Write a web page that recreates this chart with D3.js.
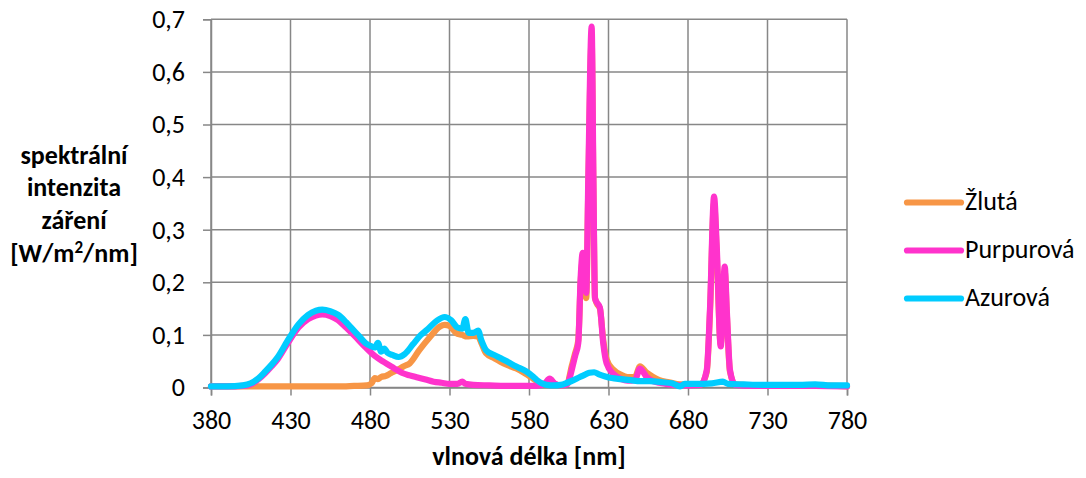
<!DOCTYPE html>
<html>
<head>
<meta charset="utf-8">
<script src="https://cdn.jsdelivr.net/npm/d3@7"></script>
<style>
  body { margin: 0; background: #fff; }
  svg text { font-family: Carlito, Lato, sans-serif; fill: #000; }
</style>
</head>
<body>
<div id="chart"></div>
<script>
// data
var seriesNames = ["Žlutá", "Purpurová", "Azurová"];
var seriesColors = ["#f79646", "#ff33cc", "#00ccff"];

var zlutaNm  = [380,400,420,440,460,470,478,481,483,485,487,490,493,497,501,505,511,518,524,527,530,534,538,541,545,548,550,553,558,562,567,572,578,582,585,590,593,596,600,604,607,609,611,612.5,613.8,616,617.3,619.4,620.5,621.5,622.6,624.6,626.7,628.8,633,638,642,646.6,649.8,654,658,662,668,675,688,691.8,693.8,696.4,698,700.6,703.1,704.4,706.4,709.6,720,740,760,780];
var zlutaVal = [0.002,0.002,0.002,0.002,0.002,0.003,0.004,0.008,0.018,0.016,0.02,0.022,0.027,0.033,0.04,0.046,0.071,0.097,0.116,0.119,0.117,0.104,0.1,0.097,0.098,0.097,0.085,0.065,0.056,0.049,0.042,0.036,0.026,0.018,0.012,0.006,0.016,0.007,0.004,0.008,0.042,0.065,0.09,0.2,0.24,0.17,0.38,0.66,0.38,0.17,0.16,0.15,0.09,0.054,0.034,0.024,0.02,0.02,0.04,0.028,0.02,0.014,0.01,0.006,0.006,0.03,0.14,0.35,0.26,0.082,0.22,0.14,0.03,0.006,0.004,0.003,0.004,0.002];

var purpurNm  = [380,390,400,405,410,414,418,422,428,435,441,446,450,455,460,465,470,477,483,489,495,500,505,510,515,520,525,530,535,538,540,545,555,565,575,585,590,593,596,600,604,607,609,611,612.5,613.8,615,616,617.3,619.4,620.5,621.5,622.6,624.6,626.7,628.8,633,638,642,646.6,649.8,654,658,662,668,675,688,691.8,693.8,696.4,698,700.6,703.1,704.4,706.4,709.6,720,740,760,780];
var purpurVal = [0.002,0.002,0.003,0.006,0.016,0.027,0.04,0.054,0.083,0.114,0.13,0.137,0.139,0.136,0.128,0.114,0.099,0.077,0.06,0.048,0.037,0.028,0.023,0.019,0.015,0.011,0.009,0.007,0.007,0.011,0.007,0.005,0.004,0.003,0.003,0.003,0.008,0.017,0.008,0.004,0.006,0.035,0.06,0.085,0.21,0.256,0.21,0.18,0.40,0.686,0.40,0.17,0.162,0.152,0.084,0.046,0.026,0.016,0.013,0.014,0.036,0.02,0.012,0.009,0.006,0.004,0.005,0.033,0.147,0.363,0.274,0.078,0.23,0.147,0.033,0.005,0.003,0.003,0.003,0.002];

var azurNm  = [380,390,400,405,410,414,418,422,428,435,441,446,450,455,460,465,469,473,477,481,483,485,487,489,491,494,498,502,507,512,516,522,527,531,535,538,540,542,545,548,550,553,558,562,567,572,578,582,585,588,591,596,600,604,608,612,615,618,621,624,628,632,638,644,650,656,664,670,675,678,685,695,702,705,715,730,750,760,770,780];
var azurVal = [0.002,0.002,0.004,0.008,0.018,0.03,0.043,0.058,0.088,0.12,0.138,0.146,0.148,0.145,0.138,0.124,0.111,0.098,0.085,0.078,0.076,0.085,0.068,0.074,0.066,0.062,0.058,0.064,0.082,0.1,0.11,0.127,0.134,0.128,0.114,0.112,0.13,0.104,0.104,0.108,0.09,0.071,0.062,0.056,0.048,0.04,0.031,0.022,0.014,0.008,0.005,0.004,0.005,0.009,0.014,0.02,0.024,0.028,0.029,0.025,0.021,0.018,0.016,0.014,0.012,0.012,0.01,0.008,0.002,0.007,0.007,0.008,0.011,0.007,0.006,0.005,0.005,0.006,0.004,0.004];

var xTicks = [380,430,480,530,580,630,680,730,780];
var yTicks = [0,0.1,0.2,0.3,0.4,0.5,0.6,0.7];

var nmLists = [zlutaNm, purpurNm, azurNm];
var valLists = [zlutaVal, purpurVal, azurVal];

var margin = {top: 19.3, right: 239, bottom: 90.5, left: 211},
    width = 1086 - margin.left - margin.right,
    height = 478 - margin.top - margin.bottom;

var fontSize = "26px";

var svg = d3.select("#chart")
  .append("svg")
    .attr("width", 1086)
    .attr("height", 478);

var g = svg.append("g")
    .attr("transform", "translate(" + margin.left + "," + margin.top + ")");

var x = d3.scaleLinear().domain([380, 780]).range([0, width]);
var y = d3.scaleLinear().domain([0, 0.7]).range([height, 0]);

var gridColor = "#878787";

// grid
g.selectAll(".hgrid").data(yTicks).enter().append("line")
  .attr("x1", 0).attr("x2", width)
  .attr("y1", function(d) { return y(d); })
  .attr("y2", function(d) { return y(d); })
  .attr("stroke", gridColor).attr("stroke-width", 1.5);
g.selectAll(".vgrid").data(xTicks).enter().append("line")
  .attr("y1", 0).attr("y2", height)
  .attr("x1", function(d) { return x(d); })
  .attr("x2", function(d) { return x(d); })
  .attr("stroke", gridColor).attr("stroke-width", 1.5);

// axes
var xAxis = d3.axisBottom(x).tickValues(xTicks).tickSize(8).tickPadding(15)
  .tickFormat(d3.format("d"));
var yAxis = d3.axisLeft(y).tickValues(yTicks).tickSize(8).tickPadding(18)
  .tickFormat(function(d) { return d === 0 ? "0" : d3.format(".1f")(d).replace(".", ","); });

var gx = g.append("g").attr("transform", "translate(0," + height + ")").call(xAxis);
var gy = g.append("g").call(yAxis);
[gx, gy].forEach(function(a) {
  a.select(".domain").attr("stroke", gridColor).attr("stroke-width", 1.5);
  a.selectAll(".tick line").attr("stroke", gridColor).attr("stroke-width", 1.5);
  a.selectAll(".tick text").style("font-size", fontSize).style("font-family", "Carlito, Lato, sans-serif");
});

// lines
var line = d3.line()
  .x(function(d) { return x(d[0]); })
  .y(function(d) { return y(d[1]); })
  .curve(d3.curveMonotoneX);

seriesNames.forEach(function(name, i) {
  var pts = nmLists[i].map(function(n, j) { return [n, valLists[i][j]]; });
  g.append("path")
    .datum(pts)
    .attr("fill", "none")
    .attr("stroke", seriesColors[i])
    .attr("stroke-width", 6.2)
    .attr("stroke-linejoin", "round")
    .attr("stroke-linecap", "round")
    .attr("d", line);
});

// axis titles
svg.append("text")
  .attr("x", margin.left + width / 2)
  .attr("y", 465)
  .attr("text-anchor", "middle")
  .style("font-size", fontSize)
  .style("font-weight", "bold")
  .text("vlnová délka [nm]");

var yTitle = svg.append("text")
  .attr("text-anchor", "middle")
  .style("font-size", fontSize)
  .style("font-weight", "bold");
var yLines = ["spektrální", "intenzita", "záření"];
yLines.forEach(function(t, i) {
  yTitle.append("tspan").attr("x", 74).attr("y", 163.5 + i * 32.7).text(t);
});
var last = yTitle.append("tspan").attr("x", 74).attr("y", 163.5 + 3 * 32.7).text("[W/m");
last.append("tspan").attr("dy", -9).style("font-size", "17px").text("2");
yTitle.append("tspan").attr("dy", 9).text("/nm]");

// legend
var legend = svg.append("g");
seriesNames.forEach(function(name, i) {
  var ly = 202.5 + i * 48;
  legend.append("line")
    .attr("x1", 907).attr("x2", 961)
    .attr("y1", ly).attr("y2", ly)
    .attr("stroke", seriesColors[i])
    .attr("stroke-width", 6.2)
    .attr("stroke-linecap", "round");
  legend.append("text")
    .attr("x", 965).attr("y", ly + 7.5)
    .style("font-size", fontSize)
    .text(name);
});
</script>
</body>
</html>
